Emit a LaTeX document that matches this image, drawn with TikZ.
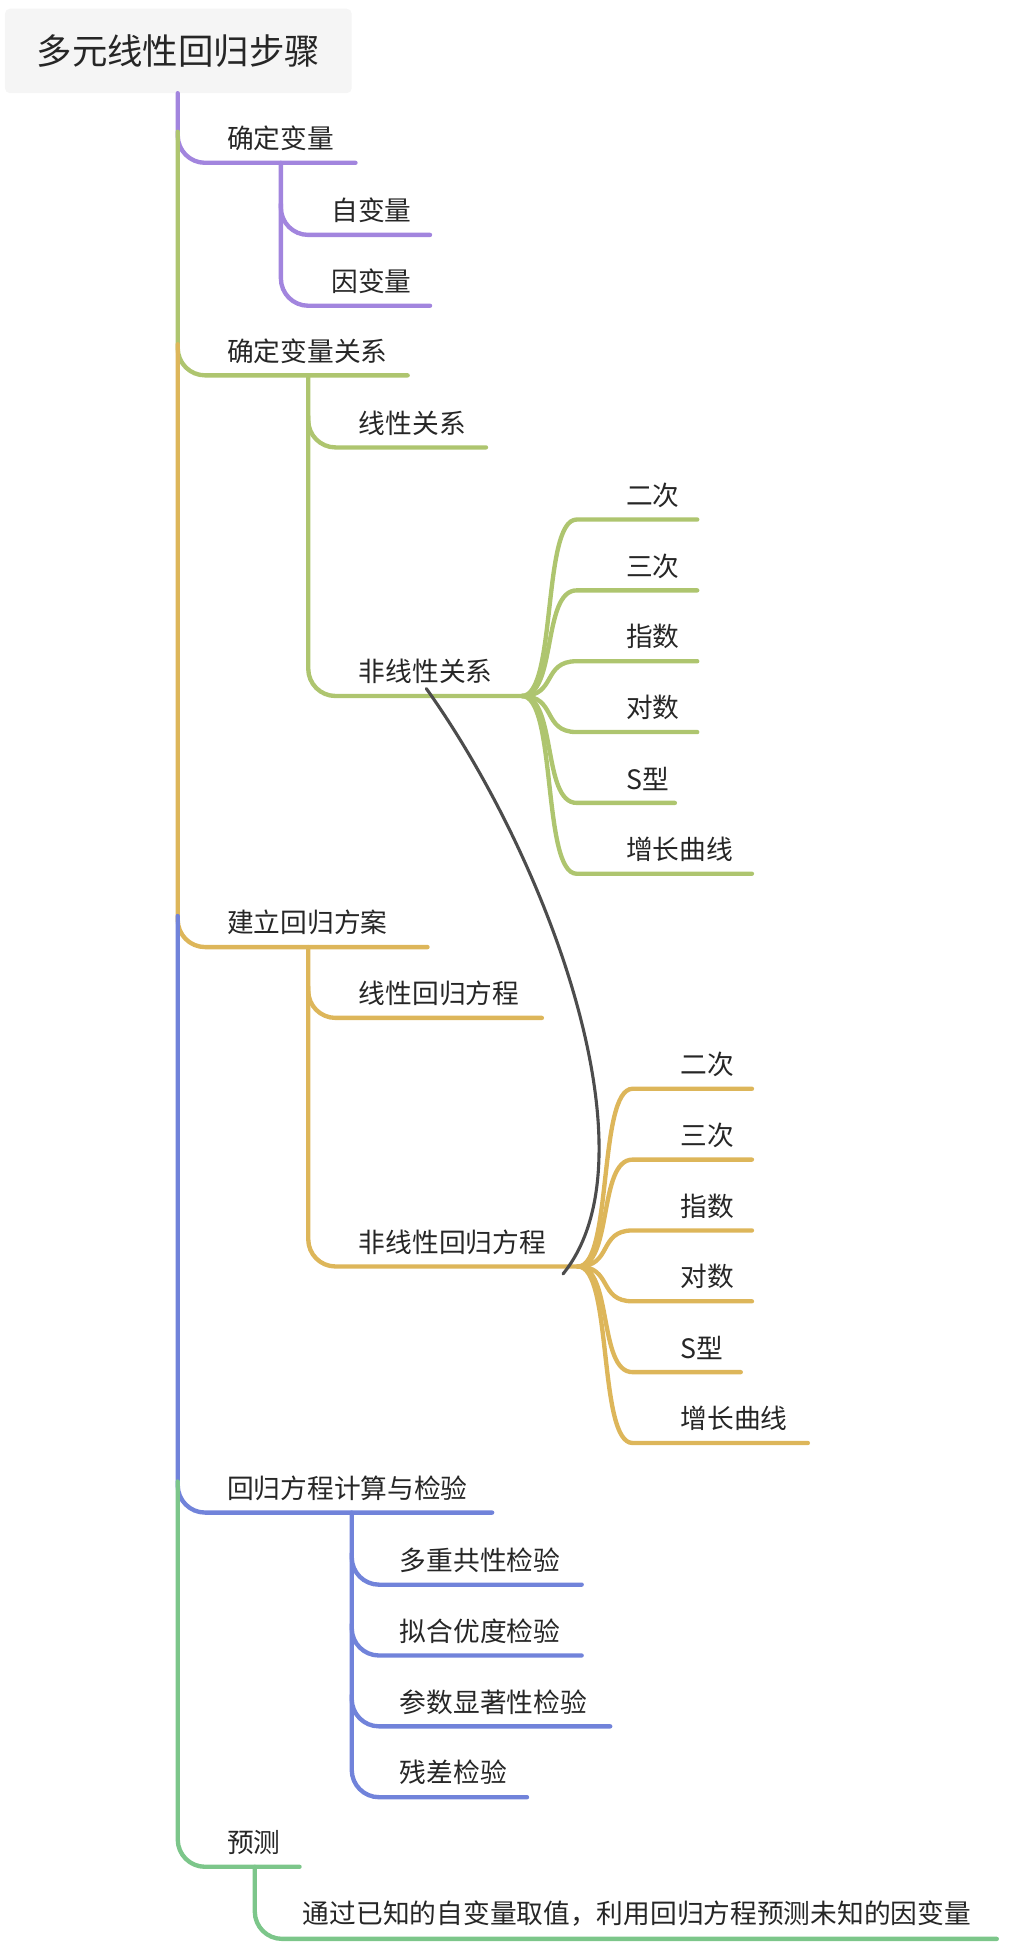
\documentclass[tikz,border=0pt]{standalone}
\usepackage{fontspec}
\setmainfont{Noto Sans CJK SC}
\begin{document}
\begin{tikzpicture}[x=1pt,y=-1pt,line width=3.5pt,line cap=round,
  lbl/.style={anchor=south west,inner sep=0pt,font=\fontsize{21.5}{21.5}\selectfont,text=black!85},
  br/.style={rounded corners=22pt}]
\definecolor{cp}{HTML}{A285DE}\definecolor{cg}{HTML}{AEC56F}\definecolor{cy}{HTML}{DDB65A}
\definecolor{cb}{HTML}{7183DA}\definecolor{cgr}{HTML}{7CC68A}
\useasboundingbox (0,0) rectangle (823,1577);
\node[fill=black!4,rounded corners=4pt,minimum width=279pt,minimum height=68pt,font=\fontsize{28.5}{28.5}\selectfont,text=black!85] (root) at (143.5,41) {多元线性回归步骤};
\newcommand\lb[5]{\draw[#1,br] (#2,#3) |- (#5,#4);}
\lb{cp}{143}{75}{131}{286}\node[lbl] (a) at (181,123) {确定变量};
\lb{cg}{143}{106}{302}{328}\node[lbl] (b) at (181,294) {确定变量关系};
\lb{cy}{143}{277}{762}{344}\node[lbl] (c) at (181,754) {建立回归方案};
\lb{cb}{143}{737}{1217}{396}\node[lbl] (d) at (181,1209) {回归方程计算与检验};
\lb{cgr}{143}{1192}{1502}{241}\node[lbl] (e) at (181,1494) {预测};
\lb{cp}{226}{131}{189}{346}\node[lbl] (a1) at (265,181) {自变量};
\lb{cp}{226}{164}{246}{346}\node[lbl] (a2) at (265,238) {因变量};
\lb{cg}{248}{302}{360}{391}\node[lbl] (b1) at (287,352) {线性关系};
\lb{cg}{248}{335}{560}{420}\node[lbl] (b2) at (287,552) {非线性关系};
\foreach \yy/\xe/\t [count=\i] in {418/561/二次,475/561/三次,532/561/指数,589/561/对数,646/543/S型,703/605/增长曲线}{
  \draw[cg] (420,560) .. controls (448,560) and (436,\yy) .. (464,\yy) -- (\xe,\yy);
  \node[lbl] (bb\i) at (502,\yy-8) {\t};}
\lb{cy}{248}{762}{819}{436}\node[lbl] (c1) at (287,811) {线性回归方程};
\lb{cy}{248}{794}{1019}{465}\node[lbl] (c2) at (287,1011) {非线性回归方程};
\foreach \yy/\xe/\t [count=\i] in {876/605/二次,933/605/三次,990/605/指数,1047/605/对数,1104/596/S型,1161/650/增长曲线}{
  \draw[cy] (465,1019) .. controls (493,1019) and (481,\yy) .. (509,\yy) -- (\xe,\yy);
  \node[lbl] (cc\i) at (546,\yy-8) {\t};}
\lb{cb}{283}{1217}{1275}{468}\node[lbl] (d1) at (320,1267) {多重共性检验};
\lb{cb}{283}{1250}{1332}{468}\node[lbl] (d2) at (320,1324) {拟合优度检验};
\lb{cb}{283}{1307}{1389}{491}\node[lbl] (d3) at (320,1381) {参数显著性检验};
\lb{cb}{283}{1364}{1446}{424}\node[lbl] (d4) at (320,1438) {残差检验};
\lb{cgr}{205}{1502}{1560}{802}\node[lbl] (e1) at (242,1552) {通过已知的自变量取值，利用回归方程预测未知的因变量};
\draw[black!70,line width=2.5pt] ([xshift=-55pt,yshift=-2pt]b2.south east) .. controls (440,690) and (530,930) .. ([xshift=12pt,yshift=-14pt]c2.south east);
\end{tikzpicture}
\end{document}
